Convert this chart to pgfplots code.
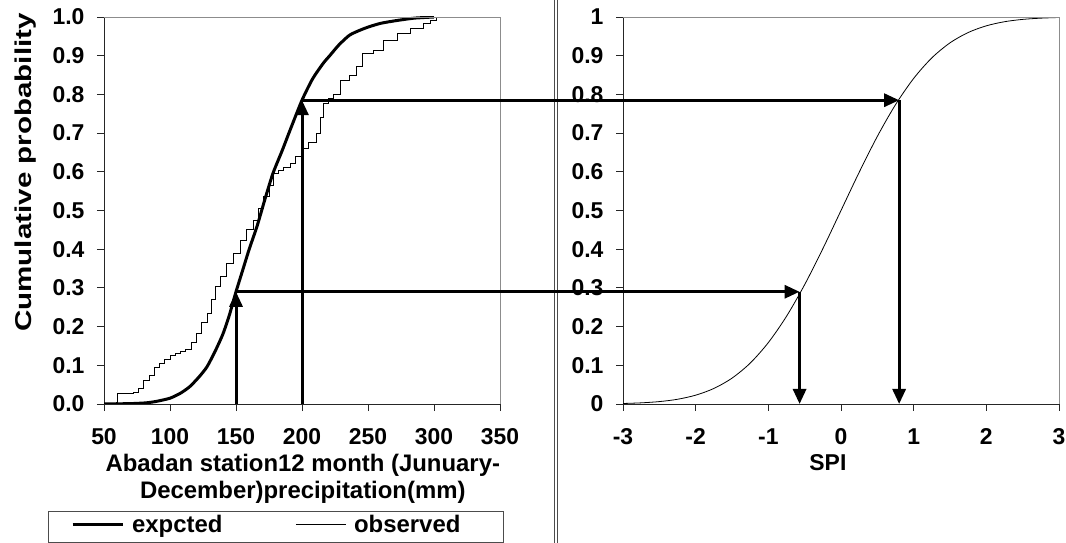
\documentclass[border=0pt]{standalone}
\usepackage{fontspec}
\setmainfont{Liberation Sans}
\usepackage{pgfplots}
\pgfplotsset{compat=1.18}
\usetikzlibrary{arrows.meta}

\newcommand\lbl{\fontsize{23}{26}\selectfont\bfseries}

\pgfplotsset{
  panel/.style={
    scale only axis,
    axis lines*=left,
    axis line style={-, line width=0.9bp, black!85},
    tick align=outside,
    major tick length=7bp,
    every tick/.style={black!85, line width=0.9bp},
    tick label style={font=\lbl},
    /pgf/number format/assume math mode=true,
    ymin=0, ymax=1,
    ytick={0,0.1,0.2,0.3,0.4,0.5,0.6,0.7,0.8,0.9,1},
    yticklabel style={xshift=-9bp},
    xticklabel style={yshift=-14bp},
    height=387bp,
    after end axis/.code={
      \draw[black!45, line width=0.9bp] (rel axis cs:0,1) -- (rel axis cs:1,1) -- (rel axis cs:1,0);
    },
  },
}
\tikzset{arr/.style={line width=3bp, -{Triangle[length=15bp,width=13bp]}}}

\begin{document}
\begin{tikzpicture}
\useasboundingbox (0,0) rectangle (1066bp,543bp);

% left panel: precipitation CDF
\begin{axis}[panel,
  at={(104bp,139bp)}, anchor=south west,
  width=396bp,
  xmin=50, xmax=350,
  xtick={50,100,150,200,250,300,350},
  yticklabel style={/pgf/number format/.cd, fixed, fixed zerofill, precision=1},
  ylabel={Cumulative probability},
  ylabel style={font=\fontsize{23}{23}\selectfont\bfseries, at={(axis description cs:-0.197,0.598)}, anchor=center, xscale=1.29},
  xlabel={Abadan station12 month (Junuary-\\December)precipitation(mm)},
  xlabel style={align=center, font=\fontsize{24}{28}\selectfont\bfseries, at={(axis description cs:0.502,-0.128)}, anchor=north, inner sep=0pt},
  legend columns=2,
  legend style={at={(axis description cs:-0.1493,-0.2765)}, anchor=north west,
    draw=none, fill=none, inner xsep=26bp, inner ysep=4bp,
    font=\fontsize{24}{26}\selectfont\bfseries,
    nodes={inner sep=0pt},
    /tikz/every odd column/.append style={column sep=8bp},
    /tikz/every even column/.append style={column sep=73bp}},
  legend image code/.code={\draw[#1] (0bp,0bp) -- (50bp,0bp);},
]
\addplot[black, line width=3bp, smooth, tension=0.4] coordinates {
  (50,0) (70,0.001) (82,0.003) (90,0.007) (100,0.015) (108,0.028) (115,0.045)
  (122,0.07) (128,0.096) (134,0.135) (140,0.18) (145,0.23) (150,0.29)
  (155,0.345) (160,0.40) (166,0.46) (172,0.53) (178,0.596) (185,0.655)
  (191,0.708) (200,0.785) (208,0.84) (216,0.88) (221,0.90) (228,0.928)
  (236,0.953) (244,0.966) (251,0.975) (260,0.984) (272,0.991) (285,0.997) (300,1.0)
};
\addlegendentry{expcted}
\addplot[black, line width=0.7bp, const plot] coordinates {
  (50,0) (59,0.004) (60,0.027) (72,0.03) (76,0.04) (80,0.062) (84,0.075)
  (88,0.095) (92,0.105) (96,0.115) (100,0.127) (104,0.13) (108,0.137)
  (112,0.14) (116,0.16) (120,0.183) (124,0.21) (128,0.235) (131,0.27)
  (134,0.303) (138,0.33) (143,0.364) (148,0.39) (153,0.424) (158,0.45)
  (163,0.475) (167,0.505) (171,0.536) (175,0.565) (178,0.596) (182,0.605)
  (186,0.612) (191,0.622) (195,0.64) (200,0.66) (205,0.675) (211,0.70)
  (214,0.74) (216,0.777) (220,0.79) (224,0.80) (229,0.837) (236,0.85)
  (241,0.872) (246,0.906) (254,0.915) (262,0.94) (272,0.958) (282,0.97)
  (292,0.983) (297,0.992) (302,1.0)
};
\addlegendentry{observed}
\coordinate (a0) at (axis cs:150,0);
\coordinate (a1) at (axis cs:150,0.29);
\coordinate (b0) at (axis cs:200,0);
\coordinate (b1) at (axis cs:200,0.785);
\end{axis}

% right panel: standard normal CDF (SPI)
\begin{axis}[panel,
  at={(623bp,139bp)}, anchor=south west,
  width=436bp,
  xmin=-3, xmax=3,
  xtick={-3,-2,-1,0,1,2,3},
  yticklabel style={/pgf/number format/.cd, fixed, precision=1},
  xlabel={SPI},
  xlabel style={font=\fontsize{23}{26}\selectfont\bfseries, at={(axis description cs:0.47,-0.129)}, anchor=north, inner sep=0pt},
]
\addplot[black, line width=0.8bp, smooth] coordinates {
  (-3,0.0013) (-2.75,0.0030) (-2.5,0.0062) (-2.25,0.0122) (-2,0.0228)
  (-1.75,0.0401) (-1.5,0.0668) (-1.25,0.1056) (-1,0.1587) (-0.75,0.2266)
  (-0.5,0.3085) (-0.25,0.4013) (0,0.5) (0.25,0.5987) (0.5,0.6915)
  (0.75,0.7734) (1,0.8413) (1.25,0.8944) (1.5,0.9332) (1.75,0.9599)
  (2,0.9772) (2.25,0.9878) (2.5,0.9938) (2.75,0.9970) (3,0.9987)
};
\coordinate (c1) at (axis cs:-0.57,0.29);
\coordinate (c0) at (axis cs:-0.57,0);
\coordinate (d1) at (axis cs:0.80,0.785);
\coordinate (d0) at (axis cs:0.80,0);
\end{axis}

% legend frame
\draw[black!70, line width=0.8bp] (48bp,1bp) rectangle (503bp,32bp);

% separator between the two panels
\draw[black!70, line width=0.9bp] (554bp,0) -- (554bp,543bp);
\draw[black!70, line width=0.9bp] (557.5bp,0) -- (557.5bp,543bp);

% reading arrows
\draw[arr] (a0) -- (a1);
\draw[arr] (a1) -- (c1);
\draw[arr] (c1) -- (c0);
\draw[arr] (b0) -- (b1);
\draw[arr] (b1) -- (d1);
\draw[arr] (d1) -- (d0);
\end{tikzpicture}
\end{document}
